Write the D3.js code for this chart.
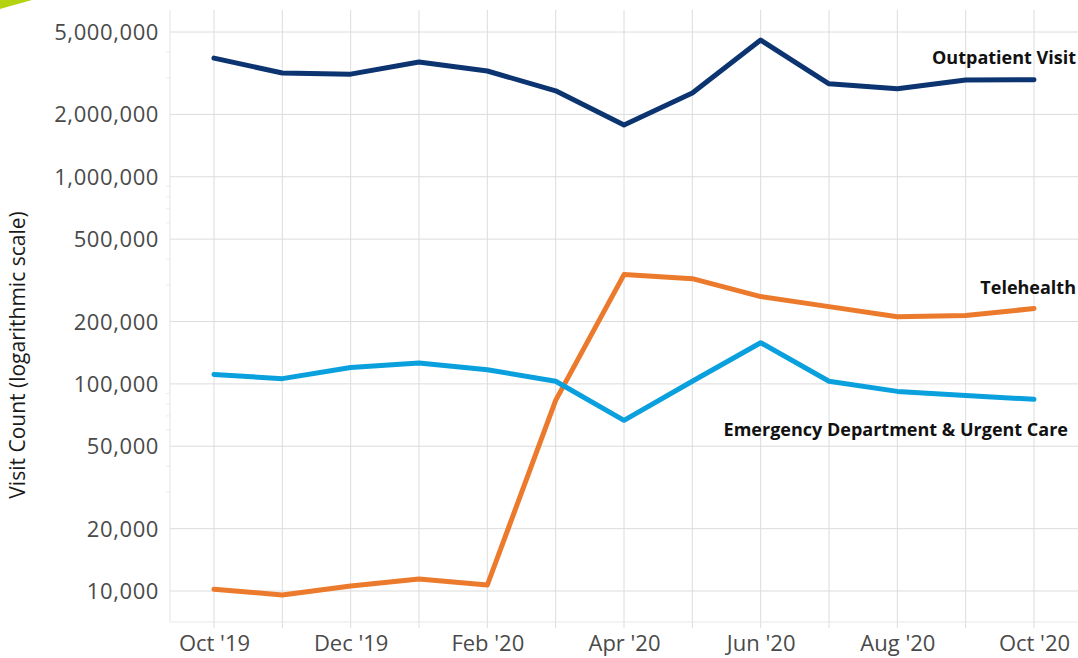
<!DOCTYPE html>
<html>
<head>
<meta charset="utf-8">
<script src="https://cdn.jsdelivr.net/npm/d3@7"></script>
<style>
  body { margin: 0; background: #fff; }
  svg { display: block; font-family: "Open Sans", sans-serif; }
</style>
</head>
<body>
<div id="chart"></div>
<script>
const months = ["Oct '19", "Nov '19", "Dec '19", "Jan '20", "Feb '20", "Mar '20", "Apr '20",
  "May '20", "Jun '20", "Jul '20", "Aug '20", "Sep '20", "Oct '20"];
const tickLabels = ["Oct '19", "Dec '19", "Feb '20", "Apr '20", "Jun '20", "Aug '20", "Oct '20"];
const yTicks = [10000, 20000, 50000, 100000, 200000, 500000, 1000000, 2000000, 5000000];

const outpatient = [3740000, 3170000, 3130000, 3580000, 3240000, 2600000, 1780000,
  2540000, 4570000, 2810000, 2660000, 2930000, 2940000];
const telehealth = [10200, 9570, 10570, 11430, 10690, 83200, 337000,
  322000, 264000, 236000, 211000, 214000, 231000];
const emergency = [111000, 106000, 120000, 126000, 117000, 103000, 66700,
  103000, 158000, 103000, 92000, 88000, 84200];

const series = [
  { name: "Outpatient Visit", values: outpatient, color: "#0b3470", lx: 1076, ly: 58 },
  { name: "Telehealth", values: telehealth, color: "#ec7a2c", lx: 1076, ly: 288 },
  { name: "Emergency Department & Urgent Care", values: emergency, color: "#0aa0dd", lx: 1068, ly: 430 }
];

const width = 1078, height = 658;
const plot = { left: 170, right: 1078, top: 10, bottom: 622 };

const svg = d3.select("#chart").append("svg")
  .attr("width", width)
  .attr("height", height);

// green corner mark
svg.append("path")
  .attr("d", "M0,0 L32,0 Q14,5 0,9 Z")
  .attr("fill", "#b4d20f");

const x = d3.scalePoint()
  .domain(months)
  .range([214, 1034]);

const y = d3.scaleLog()
  .domain([10000, 5000000])
  .range([591, 32]);

const g = svg.append("g");

// vertical grid
g.selectAll(".vgrid")
  .data(months)
  .enter().append("line")
  .attr("class", "vgrid")
  .attr("x1", d => x(d)).attr("x2", d => x(d))
  .attr("y1", plot.top).attr("y2", plot.bottom + 6)
  .attr("stroke", "#dcdcdc").attr("stroke-width", 1);

// horizontal grid
g.selectAll(".hgrid")
  .data(yTicks)
  .enter().append("line")
  .attr("class", "hgrid")
  .attr("x1", plot.left).attr("x2", plot.right)
  .attr("y1", d => y(d)).attr("y2", d => y(d))
  .attr("stroke", "#dcdcdc").attr("stroke-width", 1);

// faint minor ticks on the log axis
const minor = [];
[10000, 100000, 1000000].forEach(base => {
  for (let k = 1; k < 10; k++) {
    const v = base * k;
    if (v <= 5000000 && !yTicks.includes(v)) minor.push(v);
  }
});
g.selectAll(".minor")
  .data(minor)
  .enter().append("line")
  .attr("x1", plot.left - 4).attr("x2", plot.left)
  .attr("y1", d => y(d)).attr("y2", d => y(d))
  .attr("stroke", "#ececec");

// plot frame (left + bottom)
g.append("line")
  .attr("x1", plot.left).attr("x2", plot.left)
  .attr("y1", plot.top).attr("y2", plot.bottom)
  .attr("stroke", "#e3e3e3");
g.append("line")
  .attr("x1", plot.left).attr("x2", plot.right)
  .attr("y1", plot.bottom).attr("y2", plot.bottom)
  .attr("stroke", "#e8e8e8");

// y axis labels
const yAxis = d3.axisLeft(y)
  .tickValues(yTicks)
  .tickFormat(d3.format(","))
  .tickSize(0)
  .tickPadding(11);

const yAxisG = svg.append("g")
  .attr("transform", `translate(${plot.left},0)`)
  .call(yAxis);
yAxisG.select(".domain").remove();
yAxisG.selectAll("text")
  .style("font-family", "Open Sans")
  .style("font-size", "22px")
  .style("letter-spacing", "0.6px")
  .attr("fill", "#4a4a4a")
  .attr("dy", "0.34em");

// x axis labels
const xAxis = d3.axisBottom(x)
  .tickValues(tickLabels)
  .tickSize(0)
  .tickPadding(13);

const xAxisG = svg.append("g")
  .attr("transform", `translate(0,${plot.bottom})`)
  .call(xAxis);
xAxisG.select(".domain").remove();
xAxisG.selectAll("text")
  .style("font-family", "Open Sans")
  .style("font-size", "22px")
  .attr("fill", "#4a4a4a");

// y title
svg.append("text")
  .attr("transform", "translate(25,355) rotate(-90)")
  .attr("text-anchor", "middle")
  .style("font-size", "21px")
  .attr("fill", "#1a1a1a")
  .text("Visit Count (logarithmic scale)");

// lines
const line = d3.line()
  .x((d, i) => x(months[i]))
  .y(d => y(d));

series.forEach(s => {
  svg.append("path")
    .datum(s.values)
    .attr("fill", "none")
    .attr("stroke", s.color)
    .attr("stroke-width", 5)
    .attr("stroke-linejoin", "round")
    .attr("stroke-linecap", "round")
    .attr("d", line);

  svg.append("text")
    .attr("x", s.lx)
    .attr("y", s.ly)
    .attr("dy", "0.35em")
    .attr("text-anchor", "end")
    .style("font-size", "18px")
    .style("font-weight", "bold")
    .attr("fill", "#111")
    .text(s.name);
});
</script>
</body>
</html>
